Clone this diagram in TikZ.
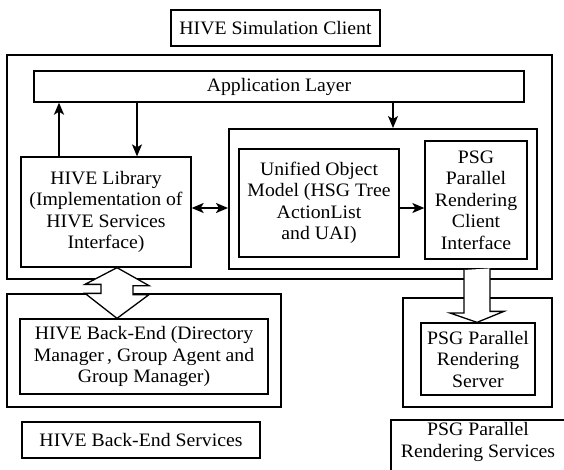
\documentclass[tikz,border=0pt]{standalone}
\usepackage{fontspec}
\setmainfont[FakeStretch=1.04]{Liberation Serif}
\usetikzlibrary{arrows.meta,calc}

\tikzset{
  txt/.style={font=\fontsize{19}{21.5}\selectfont, align=center},
  box/.style={txt, draw, line width=1.3pt, inner sep=0pt},
  frame/.style={draw, line width=2pt, inner sep=0pt},
  head/.tip={Stealth[length=12pt,width=10pt,inset=3pt]},
  conn/.style={line width=1.3pt, -head},
  boldconn/.style={line width=2.2pt, -head},
  both/.style={line width=1.8pt, head-head},
  fat/.style={draw, fill=white, line width=1.3pt, line join=miter}
}

\begin{document}
\begin{tikzpicture}[x=1pt, y=-1pt]
\useasboundingbox (0,0) rectangle (564,469);

% title of the client side
\node[box, minimum width=209pt, minimum height=36pt] (simclient) at (275.5,28) {HIVE Simulation Client};

% HIVE simulation client frame
\node[frame, minimum width=545pt, minimum height=224pt] (client) at (279.5,167) {};
\node[box, minimum width=490pt, minimum height=31pt] (applayer) at (279,86.5) {Application Layer};
\node[box, minimum width=170pt, minimum height=110pt] (library) at (106,212)
  {HIVE Library\\(Implementation of\\HIVE Services\\Interface)};
\node[frame, minimum width=308pt, minimum height=140pt] (container) at (383,199) {};
\node[box, minimum width=160pt, minimum height=108pt] (uom) at (319,203)
  {Unified Object\\Model (HSG Tree\\ActionList\\and UAI)};
\node[box, minimum width=102pt, minimum height=118pt] (psgclient) at (476,200)
  {PSG\\Parallel\\Rendering\\Client\\Interface};

% back-end services
\node[frame, minimum width=274pt, minimum height=113pt] (backframe) at (144,350.5) {};
\node[box, minimum width=248pt, minimum height=75pt] (backend) at (144,356.5)
  {HIVE Back-End (Directory\\Manager\,, Group Agent and\\Group Manager)};
\node[box, minimum width=238pt, minimum height=36pt] (services) at (141,440) {HIVE Back-End Services};

% parallel rendering services
\node[frame, minimum width=149pt, minimum height=109pt] (psgframe) at (477.5,352.5) {};
\node[box, minimum width=114pt, minimum height=72pt] (psgserver) at (478,359)
  {PSG Parallel\\Rendering\\Server};
\node[txt, inner sep=0pt] (psgsvc) at (478,442) {PSG Parallel\\Rendering Services};
\draw[line width=1.3pt] (391,485) -- (391,420) -- (580,420);

% vertical connector positions
\coordinate (ax1) at (59,0);
\coordinate (ax2) at (137,0);
\coordinate (ax3) at (393,0);
\coordinate (ay) at (0,208);
\coordinate (fl) at (117,0);
\coordinate (fr) at (477,0);

\draw[boldconn] (library.north -| ax1) -- (applayer.south -| ax1);
\draw[conn] (applayer.south -| ax2) -- (library.north -| ax2);
\draw[conn] (applayer.south -| ax3) -- (container.north -| ax3);
\draw[both] (library.east |- ay) -- (container.west |- ay);
\draw[conn] (uom.east |- ay) -- (psgclient.west |- ay);

% wide double arrow between library and back-end
\draw[fat] (library.south -| fl) -- ++(32,18) -- ++(-16,0) -- ++(0,9) -- ++(16,0)
  -- (backend.north -| fl) -- ++(-32,-25) -- ++(16,0) -- ++(0,-9) -- ++(-16,0) -- cycle;

% wide arrow from client interface to rendering server
\draw[fat] ($(container.south -| fr)+(-13,0)$) -- ++(0,43) -- ++(-14,0)
  -- (psgserver.north -| fr) -- ++(27,-11) -- ++(-14,0) -- ++(0,-43);
\end{tikzpicture}
\end{document}
